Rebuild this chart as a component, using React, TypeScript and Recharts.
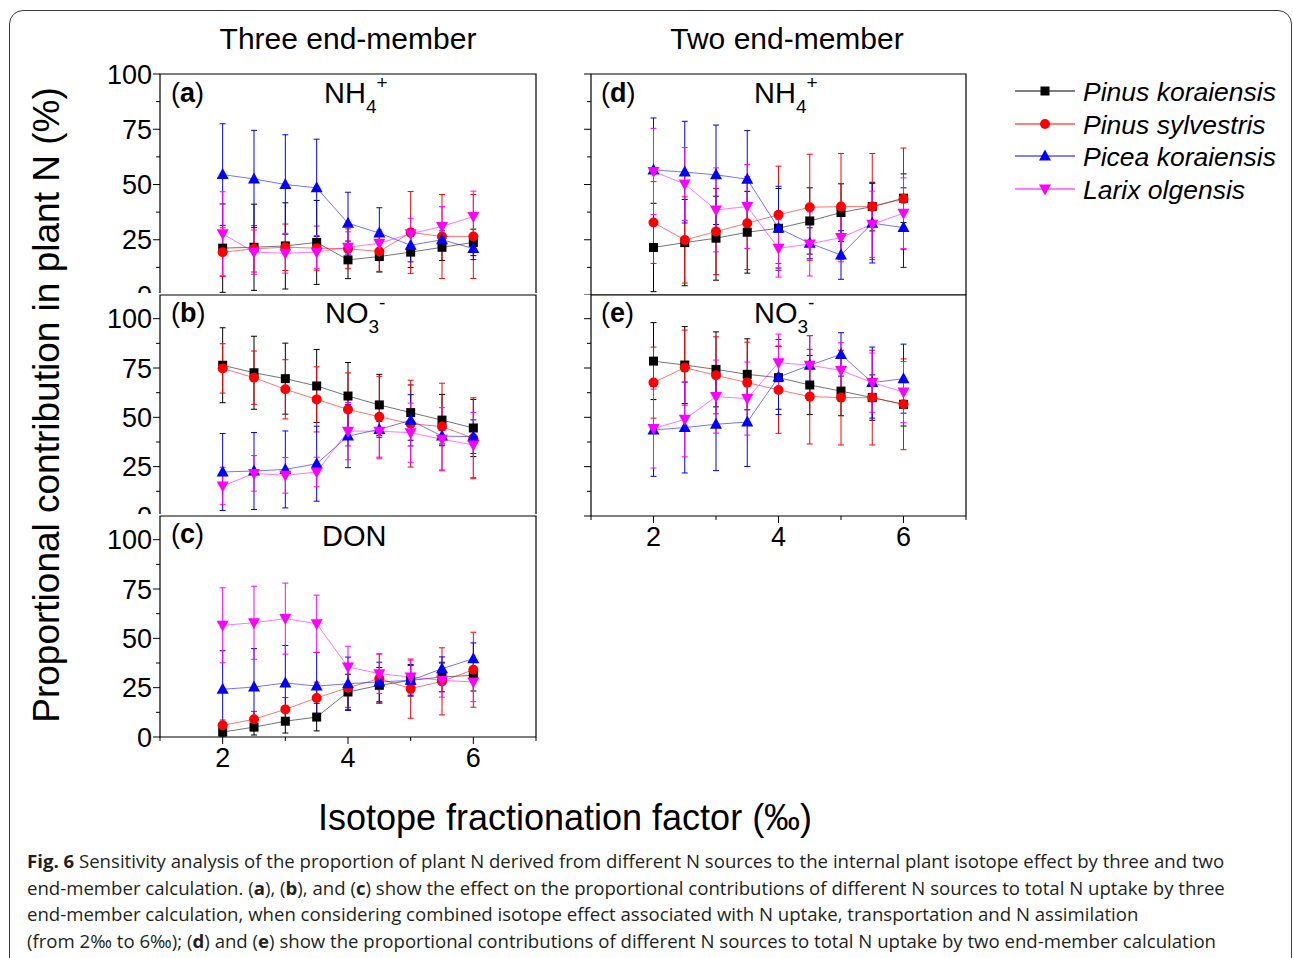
import React from 'react';
import { LineChart, Line, XAxis, YAxis, ErrorBar, ReferenceArea } from 'recharts';

// ---------------------------------------------------------------------------
// Data: isotope fractionation factor (‰) and proportional contribution (%)
// ---------------------------------------------------------------------------
const FACTORS = [2, 2.5, 3, 3.5, 4, 4.5, 5, 5.5, 6];

// (a) three end-member, NH4+
const A_PK = [21.2, 21.6, 22.2, 23.8, 15.9, 17.4, 19.4, 21.6, 23.8];
const A_PK_ERR = [20, 19.5, 19.5, 19, 8.5, 7, 7, 6, 6];
const A_PS = [19.4, 20.9, 21.6, 21.2, 20.9, 19.7, 28.3, 26.5, 26.5];
const A_PS_ERR = [11, 10.5, 10.5, 10, 9, 9, 18.5, 19, 19];
const A_PC = [54.5, 52.5, 50, 48.5, 32.5, 28, 22.5, 25, 21];
const A_PC_ERR = [23, 22, 22.5, 22, 14, 11.5, 7.5, 4, 5];
const A_LO = [27.7, 19.4, 18.9, 19.4, 21.6, 23.4, 27.7, 31, 35.5];
const A_LO_ERR = [19, 10, 9, 7.5, 7, 6, 7, 9, 11.5];

// (b) three end-member, NO3-
const B_PK = [76.4, 72.6, 69.6, 65.9, 60.8, 56.3, 52.4, 48.6, 44.6];
const B_PK_ERR = [19, 18.5, 18, 18.5, 17, 15.5, 14, 13, 14.5];
const B_PS = [74.8, 70.1, 64.2, 59.1, 54, 50.3, 46.8, 45.3, 39.4];
const B_PS_ERR = [12.5, 13.5, 15, 16.5, 18.5, 20.5, 22, 22, 20.5];
const B_PC = [22.3, 22.8, 23.6, 26.5, 40.5, 43.9, 48.5, 40.5, 40.2];
const B_PC_ERR = [19.5, 19.5, 19.5, 19, 16, 4, 13, 4, 8.5];
const B_LO = [15.2, 21.6, 20.6, 22.3, 43, 43, 42.2, 38.9, 36];
const B_LO_ERR = [9.5, 9, 9, 7.5, 14.5, 14, 15, 16, 16.5];

// (c) three end-member, DON
const C_PK = [2.5, 5, 8, 10.1, 22.8, 26.2, 28.7, 30.4, 31.3];
const C_PK_ERR = [2, 4, 6, 7, 9, 9, 8, 7.5, 8];
const C_PS = [5.9, 9, 14, 19.8, 25, 29.6, 24.5, 28.2, 34.1];
const C_PS_ERR = [2.7, 4, 6, 8, 10, 12.5, 15, 17, 19];
const C_PC = [24.2, 25.3, 27.4, 25.8, 27, 27.9, 28.7, 34.6, 39.7];
const C_PC_ERR = [19.5, 19.5, 19, 17, 13.5, 10, 7.5, 6, 8];
const C_LO = [56.6, 57.9, 60, 57.4, 35.5, 32.1, 30.4, 28.7, 27.9];
const C_LO_ERR = [19, 18.5, 18, 14.5, 10.5, 10, 8.5, 8.5, 10];

// (d) two end-member, NH4+
const D_PK = [21.5, 23.7, 25.7, 28.4, 30.2, 33.5, 37.3, 40, 43.8];
const D_PK_ERR = [20, 19.5, 19, 18.5, 18, 15, 13, 11, 11];
const D_PS = [32.8, 24.9, 28.7, 32.5, 36.3, 39.7, 40, 40, 43.5];
const D_PS_ERR = [18.5, 19.5, 19.5, 21, 22, 24, 24, 24, 23];
const D_PC = [56.6, 55.6, 54.4, 52.4, 30.2, 23.4, 18.1, 32.5, 30.5];
const D_PC_ERR = [23.5, 23, 22.5, 22, 19, 7, 11, 18, 18];
const D_LO = [55.9, 50.2, 38.5, 40, 21.1, 23.1, 26, 32, 37];
const D_LO_ERR = [19.5, 16.5, 19, 19, 13, 14.5, 11, 15, 16];

// (e) two end-member, NO3-
const E_PK = [78.5, 76.5, 74.3, 71.8, 70.1, 66.4, 63.3, 60, 56.6];
const E_PK_ERR = [19.5, 19.5, 19, 18, 16, 15, 12.5, 11.5, 11];
const E_PS = [67.6, 75.2, 71.3, 67.6, 63.9, 60.5, 60, 60, 56.6];
const E_PS_ERR = [18, 19, 19.5, 20.5, 22, 24, 24, 24, 23];
const E_PC = [43.6, 44.8, 46.5, 47.6, 70.4, 76.4, 81.9, 67.6, 69.6];
const E_PC_ERR = [23.5, 23, 23.5, 22.5, 19, 15, 11, 18, 17.5];
const E_LO = [44.3, 49, 60.5, 59.5, 77.7, 76.4, 73.8, 67.6, 62.8];
const E_LO_ERR = [20, 19, 18.5, 18.5, 14.5, 15, 14, 15, 15.5];

const X_TICKS = [1, 2, 3, 4, 5, 6, 7];
const Y_TICKS = [0, 12.5, 25, 37.5, 50, 62.5, 75, 87.5, 100];

// ---------------------------------------------------------------------------
// Series styling
// ---------------------------------------------------------------------------
const SPECIES = [
  { key: 'pk', name: 'Pinus koraiensis', color: '#000000', shape: 'square' },
  { key: 'ps', name: 'Pinus sylvestris', color: '#ff0000', shape: 'circle' },
  { key: 'pc', name: 'Picea koraiensis', color: '#0000ff', shape: 'up' },
  { key: 'lo', name: 'Larix olgensis', color: '#ff00ff', shape: 'down' },
];

const FONT = '"Liberation Sans", Arial, sans-serif';
const Y_AXIS_W = 60;

function buildRows(series: number[][]) {
  return FACTORS.map((x, i) => ({
    x,
    pk: series[0][i],
    pkErr: series[1][i],
    ps: series[2][i],
    psErr: series[3][i],
    pc: series[4][i],
    pcErr: series[5][i],
    lo: series[6][i],
    loErr: series[7][i],
  }));
}

function Marker({ cx, cy, shape, color }: any) {
  if (cx == null || cy == null) return null;
  if (shape === 'square') return <rect x={cx - 4.5} y={cy - 4.5} width={9} height={9} fill={color} />;
  if (shape === 'circle') return <circle cx={cx} cy={cy} r={5} fill={color} />;
  if (shape === 'up')
    return <polygon points={`${cx},${cy - 6.5} ${cx + 6},${cy + 4.5} ${cx - 6},${cy + 4.5}`} fill={color} />;
  return <polygon points={`${cx},${cy + 6.5} ${cx + 6},${cy - 4.5} ${cx - 6},${cy - 4.5}`} fill={color} />;
}

function makeYTick(showLabels: boolean) {
  return (props: any) => {
    const { x, y, payload } = props;
    const v = payload.value;
    const major = v % 25 === 0;
    return (
      <g>
        <line x1={x} x2={x - (major ? 7 : 4)} y1={y} y2={y} stroke="#000" strokeWidth={1} />
        {showLabels && major && (
          <text x={x - 8} y={y} dy="0.36em" textAnchor="end" fontSize={27} fontFamily={FONT} fill="#000">
            {v}
          </text>
        )}
      </g>
    );
  };
}

function XTick(props: any) {
  const { x, y, payload } = props;
  const v = payload.value;
  const major = v % 2 === 0;
  return (
    <g>
      <line x1={x} x2={x} y1={y} y2={y + (major ? 7 : 4)} stroke="#000" strokeWidth={1} />
      {major && (
        <text x={x} y={y + 30} textAnchor="middle" fontSize={27} fontFamily={FONT} fill="#000">
          {v}
        </text>
      )}
    </g>
  );
}

interface PanelProps {
  rows: any[];
  left: number;
  top: number;
  width: number;
  height: number;
  yMax: number;
  marginTop: number;
  showXLabels: boolean;
  showYLabels: boolean;
  cover: boolean;
}

function Panel({ rows, left, top, width, height, yMax, marginTop, showXLabels, showYLabels, cover }: PanelProps) {
  const xAxisH = showXLabels ? 45 : 0;
  return (
    <div
      style={{
        position: 'absolute',
        left: left - Y_AXIS_W,
        top: top - marginTop,
        background: cover ? '#fff' : 'transparent',
      }}
    >
      <LineChart
        width={Y_AXIS_W + width + 10}
        height={marginTop + height + xAxisH}
        data={rows}
        margin={{ top: marginTop, right: 10, bottom: 0, left: 0 }}
        style={{ overflow: 'visible' }}
      >
        <XAxis
          dataKey="x"
          type="number"
          domain={[1, 7]}
          ticks={X_TICKS}
          interval={0}
          hide={!showXLabels}
          height={xAxisH}
          tickSize={0}
          tickMargin={0}
          axisLine={false}
          tick={XTick}
        />
        <YAxis
          type="number"
          domain={[0, yMax]}
          ticks={Y_TICKS}
          interval={0}
          width={Y_AXIS_W}
          tickSize={0}
          tickMargin={0}
          axisLine={false}
          tick={makeYTick(showYLabels)}
        />
        <ReferenceArea x1={1} x2={7} y1={0} y2={yMax} fill="none" stroke="#000" strokeWidth={1.2} ifOverflow="visible" />
        {SPECIES.map((s) => (
          <Line
            key={s.key}
            dataKey={s.key}
            stroke={s.color}
            strokeOpacity={0.55}
            strokeWidth={1}
            isAnimationActive={false}
            activeDot={false}
            dot={(p: any) => <Marker key={p.index} cx={p.cx} cy={p.cy} shape={s.shape} color={s.color} />}
          >
            <ErrorBar dataKey={s.key + 'Err'} width={3} stroke={s.color} strokeWidth={1} direction="y" isAnimationActive={false} />
          </Line>
        ))}
      </LineChart>
    </div>
  );
}

function PanelLabel({ x, y, letter }: { x: number; y: number; letter: string }) {
  return (
    <text x={x} y={y} fontSize={27} fontFamily={FONT} fill="#000">
      (<tspan fontWeight="bold">{letter}</tspan>)
    </text>
  );
}

function IonLabel({ x, y, base, sub, sup }: { x: number; y: number; base: string; sub?: string; sup?: string }) {
  return (
    <text x={x} y={y} fontSize={29} fontFamily={FONT} fill="#000">
      {base}
      {sub && (
        <tspan fontSize={19} dy={10}>
          {sub}
        </tspan>
      )}
      {sup && (
        <tspan fontSize={19} dy={-24}>
          {sup}
        </tspan>
      )}
    </text>
  );
}

export default function App() {
  const rowsA = buildRows([A_PK, A_PK_ERR, A_PS, A_PS_ERR, A_PC, A_PC_ERR, A_LO, A_LO_ERR]);
  const rowsB = buildRows([B_PK, B_PK_ERR, B_PS, B_PS_ERR, B_PC, B_PC_ERR, B_LO, B_LO_ERR]);
  const rowsC = buildRows([C_PK, C_PK_ERR, C_PS, C_PS_ERR, C_PC, C_PC_ERR, C_LO, C_LO_ERR]);
  const rowsD = buildRows([D_PK, D_PK_ERR, D_PS, D_PS_ERR, D_PC, D_PC_ERR, D_LO, D_LO_ERR]);
  const rowsE = buildRows([E_PK, E_PK_ERR, E_PS, E_PS_ERR, E_PC, E_PC_ERR, E_LO, E_LO_ERR]);

  const legendRows = [91, 124, 156, 189];

  return (
    <div
      style={{
        position: 'fixed',
        left: 0,
        top: 0,
        width: 1293,
        height: 958,
        overflow: 'hidden',
        background: '#fff',
        fontFamily: FONT,
      }}
    >
      {/* outer rounded frame */}
      <div
        style={{
          position: 'absolute',
          left: 9,
          top: 10,
          width: 1281,
          height: 1100,
          border: '1.5px solid #3a3a3a',
          borderRadius: 14,
        }}
      />

      <Panel rows={rowsA} left={160} top={74} width={376} height={221} yMax={100} marginTop={14} showXLabels={false} showYLabels cover={false} />
      <Panel rows={rowsB} left={160} top={295} width={376} height={221} yMax={112} marginTop={2} showXLabels={false} showYLabels cover />
      <Panel rows={rowsC} left={160} top={516} width={376} height={221} yMax={112} marginTop={2} showXLabels showYLabels cover />
      <Panel rows={rowsD} left={591} top={74} width={375} height={221} yMax={100} marginTop={14} showXLabels={false} showYLabels={false} cover={false} />
      <Panel rows={rowsE} left={591} top={295} width={375} height={221} yMax={112} marginTop={2} showXLabels showYLabels={false} cover={false} />

      {/* static text layer */}
      <svg width={1293} height={958} style={{ position: 'absolute', left: 0, top: 0, pointerEvents: 'none' }}>
        <text x={348} y={49} textAnchor="middle" fontSize={30} fontFamily={FONT} fill="#000">
          Three end-member
        </text>
        <text x={787} y={49} textAnchor="middle" fontSize={30} fontFamily={FONT} fill="#000">
          Two end-member
        </text>

        <text
          transform="translate(59, 405) rotate(-90)"
          textAnchor="middle"
          fontSize={37}
          fontFamily={FONT}
          fill="#000"
        >
          Proportional contribution in plant N (%)
        </text>
        <text x={565} y={830} textAnchor="middle" fontSize={36} fontFamily={FONT} fill="#000">
          Isotope fractionation factor (‰)
        </text>

        <PanelLabel x={171} y={102} letter="a" />
        <PanelLabel x={171} y={322} letter="b" />
        <PanelLabel x={171} y={543} letter="c" />
        <PanelLabel x={601} y={102} letter="d" />
        <PanelLabel x={601} y={322} letter="e" />

        <IonLabel x={324} y={103} base="NH" sub="4" sup="+" />
        <IonLabel x={325} y={323} base="NO" sub="3" sup="-" />
        <text x={322} y={546} fontSize={29} fontFamily={FONT} fill="#000">
          DON
        </text>
        <IonLabel x={754} y={103} base="NH" sub="4" sup="+" />
        <IonLabel x={754} y={323} base="NO" sub="3" sup="-" />

        {/* legend */}
        {SPECIES.map((s, i) => (
          <g key={s.key}>
            <line x1={1015} x2={1075} y1={legendRows[i]} y2={legendRows[i]} stroke={s.color} strokeWidth={1.2} />
            <Marker cx={1045} cy={legendRows[i]} shape={s.shape} color={s.color} />
            <text
              x={1083}
              y={legendRows[i]}
              dy="0.36em"
              fontSize={26.5}
              fontStyle="italic"
              fontFamily={FONT}
              fill="#000"
            >
              {s.name}
            </text>
          </g>
        ))}
      </svg>

      {/* caption */}
      <div
        style={{
          position: 'absolute',
          left: 27,
          top: 848,
          fontFamily: '"Open Sans", "Noto Sans", sans-serif',
          fontSize: 18.6,
          lineHeight: '26.7px',
          color: '#231f20',
          whiteSpace: 'nowrap',
        }}
      >
        <b>Fig. 6</b> Sensitivity analysis of the proportion of plant N derived from different N sources to the internal plant isotope effect by three and two
        <br />
        end-member calculation. (<b>a</b>), (<b>b</b>), and (<b>c</b>) show the effect on the proportional contributions of different N sources to total N uptake by three
        <br />
        end-member calculation, when considering combined isotope effect associated with N uptake, transportation and N assimilation
        <br />
        (from 2‰ to 6‰); (<b>d</b>) and (<b>e</b>) show the proportional contributions of different N sources to total N uptake by two end-member calculation
      </div>
    </div>
  );
}
